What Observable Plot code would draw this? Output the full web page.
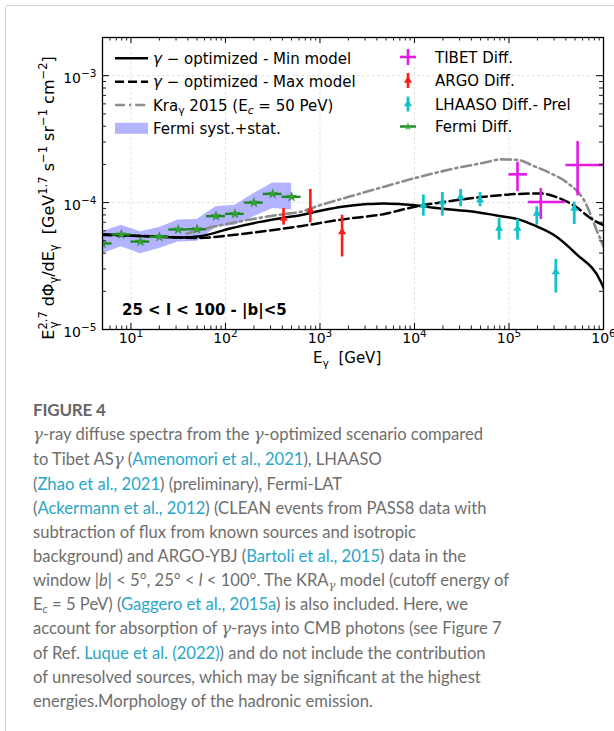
<!DOCTYPE html>
<html><head><meta charset="utf-8">
<script src="https://cdn.jsdelivr.net/npm/d3@7"></script>
<script src="https://cdn.jsdelivr.net/npm/@observablehq/plot@0.6"></script>
<style>
body{margin:0;background:#fff;width:614px;height:731px;overflow:hidden;position:relative;}
#card{position:absolute;left:5px;top:5px;width:640px;height:760px;border:1.5px solid #d4d4d4;border-radius:3px;}
#chart{position:absolute;left:0;top:0;}
#figlabel{position:absolute;left:33px;top:400px;font:bold 17px Lato;color:#666;line-height:20px;letter-spacing:-0.2px}
#caption{position:absolute;left:33px;top:422px;font:16.6px Lato;color:#6e6e6e;line-height:24px;white-space:nowrap;}
#caption a{color:#2aa6c6;text-decoration:none}
#caption sub{font-size:70%;line-height:0;vertical-align:-0.3em}
.g{font-family:"DejaVu Serif";font-style:italic}
</style></head><body>
<div id="card"></div>
<div id="chart"></div>
<div id="figlabel">FIGURE 4</div>
<div id="caption">
<span class="g">γ</span>-ray diffuse spectra from the <span class="g">γ</span>-optimized scenario compared<br>
to Tibet AS<span class="g">γ</span> (<a>Amenomori et al., 2021</a>), LHAASO<br>
(<a>Zhao et al., 2021</a>) (preliminary), Fermi-LAT<br>
(<a>Ackermann et al., 2012</a>) (CLEAN events from PASS8 data with<br>
subtraction of flux from known sources and isotropic<br>
background) and ARGO-YBJ (<a>Bartoli et al., 2015</a>) data in the<br>
window |<i>b</i>| &lt; 5°, 25° &lt; <i>l</i> &lt; 100°. The KRA<sub class="g">γ</sub> model (cutoff energy of<br>
E<sub><i>c</i></sub> = 5 PeV) (<a>Gaggero et al., 2015a</a>) is also included. Here, we<br>
account for absorption of <span class="g">γ</span>-rays into CMB photons (see Figure 7<br>
of Ref. <a>Luque et al. (2022)</a>) and do not include the contribution<br>
of unresolved sources, which may be significant at the highest<br>
energies.Morphology of the hadronic emission.
</div>
<script>
// ---------- data ----------
const xMajor = [10, 100, 1e3, 1e4, 1e5, 1e6];
const xMajorExp = ["1", "2", "3", "4", "5", "6"];
const yMajor = [1e-5, 1e-4, 1e-3];
const yMajorExp = ["\u22125", "\u22124", "\u22123"];
const xGrid = [10, 100, 1e3, 1e4, 1e5];
const yGrid = [1e-4, 1e-3];

// Fermi diffuse points (bin centres, bin edges, flux) and syst.+stat. band
const fermiE    = [5.0, 7.9, 12.6, 20.0, 31.6, 50.1, 79.4, 126, 200, 316, 501];
const fermiELo  = [3.98, 6.31, 10.0, 15.8, 25.1, 39.8, 63.1, 100, 158, 251, 398];
const fermiEHi  = [6.31, 10.0, 15.8, 25.1, 39.8, 63.1, 100, 158, 251, 398, 631];
const fermiFlux = [4.76e-5, 5.61e-5, 4.93e-5, 5.37e-5, 6.14e-5, 6.17e-5, 7.82e-5, 8.15e-5, 1.00e-4, 1.17e-4, 1.11e-4];
const fermiBandLo = [3.96e-5, 4.48e-5, 3.96e-5, 4.35e-5, 4.90e-5, 4.96e-5, 6.37e-5, 6.64e-5, 7.73e-5, 9.0e-5, 8.73e-5];
const fermiBandHi = [5.88e-5, 6.64e-5, 5.88e-5, 6.37e-5, 7.28e-5, 7.36e-5, 9.27e-5, 9.55e-5, 1.18e-4, 1.43e-4, 1.42e-4];

// ARGO-YBJ
const argoE    = [412, 791, 1714];
const argoFlux = [7.5e-5, 8.72e-5, 5.88e-5];
const argoLo   = [6.64e-5, 6.92e-5, 3.73e-5];
const argoHi   = [9.0e-5, 1.27e-4, 7.96e-5];

// LHAASO (preliminary)
const lhaasoE    = [12400, 19700, 30800, 49400, 78600, 123000, 197000, 313000, 490000];
const lhaasoFlux = [9.55e-5, 1.01e-4, 1.11e-4, 1.05e-4, 6.25e-5, 6.25e-5, 8.22e-5, 2.84e-5, 9.0e-5];
const lhaasoLo   = [7.82e-5, 7.82e-5, 9.27e-5, 9.27e-5, 5.06e-5, 5.06e-5, 6.64e-5, 1.94e-5, 6.73e-5];
const lhaasoHi   = [1.15e-4, 1.20e-4, 1.27e-4, 1.20e-4, 7.50e-5, 7.36e-5, 9.27e-5, 3.57e-5, 1.01e-4];

// Tibet AS-gamma
const tibetE    = [1.23e5, 2.17e5, 5.32e5];
const tibetELo  = [1.0e5, 1.6e5, 4.0e5];
const tibetEHi  = [1.57e5, 3.94e5, 1.0e6];
const tibetFlux = [1.67e-4, 1.01e-4, 1.98e-4];
const tibetLo   = [1.22e-4, 7.36e-5, 1.13e-4];
const tibetHi   = [2.08e-4, 1.29e-4, 3.03e-4];

// model curves
const minE    = [5, 15.9, 33, 54, 112, 233, 409, 620, 1010, 1714, 3155, 4700, 7120, 10030, 15950, 36600, 81900, 124000, 183000, 313000, 510000, 940000, 1010000];
const minFlux = [5.64e-5, 5.41e-5, 5.31e-5, 5.43e-5, 6.25e-5, 7.05e-5, 7.58e-5, 7.96e-5, 8.61e-5, 9.27e-5, 9.73e-5, 9.86e-5, 9.73e-5, 9.55e-5, 9.1e-5, 8.57e-5, 7.82e-5, 7.41e-5, 6.64e-5, 5.43e-5, 3.96e-5, 2.37e-5, 2.10e-5];
const maxE    = [5, 15.9, 33, 54, 112, 351, 620, 1714, 4700, 10030, 24200, 54100, 124000, 217000, 313000, 510000, 736000, 1000000];
const maxFlux = [5.55e-5, 5.43e-5, 5.3e-5, 5.27e-5, 5.53e-5, 6.14e-5, 6.52e-5, 7.36e-5, 8.11e-5, 9.27e-5, 1.03e-4, 1.11e-4, 1.17e-4, 1.18e-4, 1.11e-4, 9.27e-5, 7.5e-5, 6.64e-5];
const kraE    = [39, 78, 183, 409, 620, 1010, 2100, 4700, 10800, 24200, 54100, 81900, 124000, 183000, 277000, 420000, 620000, 875000, 1000000];
const kraFlux = [5.71e-5, 6.5e-5, 7.36e-5, 8.11e-5, 8.46e-5, 9.55e-5, 1.12e-4, 1.33e-4, 1.58e-4, 1.83e-4, 2.06e-4, 2.19e-4, 2.17e-4, 1.94e-4, 1.70e-4, 1.42e-4, 1.05e-4, 5.71e-5, 4.48e-5];

// minor ticks of the log axes
const mult = [2, 3, 4, 5, 6, 7, 8, 9];
const xMinor = [1, 10, 100, 1e3, 1e4, 1e5].flatMap(d => mult.map(m => m * d)).filter(v => v >= 5 && v <= 1e6);
const yMinor = [1e-5, 1e-4, 1e-3].flatMap(d => mult.map(m => m * d)).filter(v => v <= 2e-3);

// ---------- tables ----------
const fermi = fermiE.map((e, i) => ({e, lo: fermiELo[i], hi: fermiEHi[i], f: fermiFlux[i], bl: fermiBandLo[i], bh: fermiBandHi[i]}));
const argo = argoE.map((e, i) => ({e, f: argoFlux[i], lo: argoLo[i], hi: argoHi[i]}));
const lhaaso = lhaasoE.map((e, i) => ({e, f: lhaasoFlux[i], lo: lhaasoLo[i], hi: lhaasoHi[i]}));
const tibet = tibetE.map((e, i) => ({e, elo: tibetELo[i], ehi: tibetEHi[i], f: tibetFlux[i], lo: tibetLo[i], hi: tibetHi[i]}));
const minM = minE.map((e, i) => ({e, f: minFlux[i]}));
const maxM = maxE.map((e, i) => ({e, f: maxFlux[i]}));
const kra = kraE.map((e, i) => ({e, f: kraFlux[i]}));
const xLab = xMajor.map((v, i) => ({v, t: "10^" + xMajorExp[i]}));
const yLab = yMajor.map((v, i) => ({v, t: "10^" + yMajorExp[i]}));

const W = 614, H = 390, mT = 37, mB = 61, mL = 102, mR = 11;
const PH = H - mT - mB;
const green = "#1f8a1f", red = "#ff1a1a", cyan = "#12c2c8", magenta = "#e31be3";

const plot = Plot.plot({
  width: W, height: H,
  marginLeft: mL, marginRight: mR, marginTop: mT, marginBottom: mB,
  x: {type: "log", domain: [5, 1e6], axis: null},
  y: {type: "log", domain: [1e-5, 2e-3], axis: null},
  style: {fontFamily: "DejaVu Sans", background: "transparent", overflow: "visible"},
  marks: [
    Plot.ruleX(xGrid, {x: d => d, stroke: "#d8d8d8", strokeWidth: 0.8, strokeDasharray: "2.5,2.5"}),
    Plot.ruleY(yGrid, {y: d => d, stroke: "#d8d8d8", strokeWidth: 0.8, strokeDasharray: "2.5,2.5"}),
    Plot.areaY(fermi, {x: "e", y1: "bl", y2: "bh", fill: "#b3b3ff", clip: true}),
    Plot.line(kra, {x: "e", y: "f", stroke: "#8c8c8c", strokeWidth: 2.6, strokeDasharray: "10,4,2.2,4", curve: "monotone-x", clip: true}),
    Plot.line(maxM, {x: "e", y: "f", stroke: "black", strokeWidth: 2.5, strokeDasharray: "9.5,4.5", curve: "monotone-x", clip: true}),
    Plot.line(minM, {x: "e", y: "f", stroke: "black", strokeWidth: 2.5, curve: "monotone-x", clip: true}),
    // Fermi points
    Plot.ruleY(fermi, {y: "f", x1: "lo", x2: "hi", stroke: green, strokeWidth: 2.4, clip: true}),
    Plot.dot(fermi, {x: "e", y: "f", symbol: "star", r: 3, fill: "#3aa03a", stroke: green, strokeWidth: 0.5, clip: true}),
    // ARGO
    Plot.ruleX(argo, {x: "e", y1: "lo", y2: "hi", stroke: red, strokeWidth: 2.6}),
    Plot.dot(argo, {x: "e", y: "f", symbol: "triangle", r: 3, fill: red}),
    // LHAASO
    Plot.ruleX(lhaaso, {x: "e", y1: "lo", y2: "hi", stroke: cyan, strokeWidth: 2.8}),
    Plot.dot(lhaaso, {x: "e", y: "f", symbol: "triangle", r: 3, fill: cyan}),
    // TIBET
    Plot.ruleX(tibet, {x: "e", y1: "lo", y2: "hi", stroke: magenta, strokeWidth: 2.6, clip: true}),
    Plot.ruleY(tibet, {y: "f", x1: "elo", x2: "ehi", stroke: magenta, strokeWidth: 2.6, clip: true}),
    Plot.dot(tibet, {x: "e", y: "f", symbol: "plus", r: 2.5, stroke: magenta, strokeWidth: 1.2}),
    Plot.frame({stroke: "black", strokeWidth: 1.3}),
    // inward ticks, all four sides
    Plot.tickX(xMajor, {x: d => d, insetTop: PH - 6, stroke: "black", strokeWidth: 1}),
    Plot.tickX(xMajor, {x: d => d, insetBottom: PH - 6, stroke: "black", strokeWidth: 1}),
    Plot.tickX(xMinor, {x: d => d, insetTop: PH - 3.5, stroke: "black", strokeWidth: 0.9}),
    Plot.tickX(xMinor, {x: d => d, insetBottom: PH - 3.5, stroke: "black", strokeWidth: 0.9}),
    Plot.tickY(yMajor, {y: d => d, insetRight: (W - mL - mR) - 7, stroke: "black", strokeWidth: 1}),
    Plot.tickY(yMajor, {y: d => d, insetLeft: (W - mL - mR) - 7, stroke: "black", strokeWidth: 1}),
    Plot.tickY(yMinor, {y: d => d, insetRight: (W - mL - mR) - 4, stroke: "black", strokeWidth: 0.9}),
    Plot.tickY(yMinor, {y: d => d, insetLeft: (W - mL - mR) - 4, stroke: "black", strokeWidth: 0.9}),
    // tick labels
    Plot.text(xLab, {x: "v", text: "t", frameAnchor: "bottom", dy: 13, fontSize: 14, fill: "black"}),
    Plot.text(yLab, {y: "v", text: "t", frameAnchor: "left", dx: -6, dy: 3, textAnchor: "end", fontSize: 14, fill: "black"})
  ]
});
document.getElementById("chart").appendChild(plot);

// turn "10^e" labels into a base and a raised exponent
d3.select(plot).selectAll("text").each(function () {
  const t = d3.select(this);
  const s = t.text();
  if (!s.includes("^")) return;
  const [b, e] = s.split("^");
  t.text(null);
  t.append("tspan").text(b);
  t.append("tspan").attr("dy", "-0.55em").attr("font-size", "0.75em").text(e);
});

const svg = d3.select(plot);
// rich text helper: segs = [{t, s:"sup"|"sub", i:bool, dx}]
function rich(g, x, y, segs, size, extra) {
  const t = g.append("text").attr("x", x).attr("y", y).attr("font-size", size).attr("text-anchor", "start").style("white-space", "pre");
  if (extra) extra(t);
  let cur = 0;
  for (const s of segs) {
    const target = s.s === "sup" ? -0.42 * size : s.s === "sub" ? 0.25 * size : 0;
    const sp = t.append("tspan").attr("dy", target - cur).text(s.t);
    cur = target;
    if (s.s) sp.attr("font-size", 0.72 * size);
    if (s.i) sp.attr("font-style", "italic");
    if (s.dx) sp.attr("dx", s.dx);
  }
  return t;
}
const ann = svg.append("g").attr("font-family", "DejaVu Sans").attr("fill", "black").attr("text-anchor", "start");

// axis labels
rich(ann, 313, 363, [{t: "E"}, {t: "γ", s: "sub"}, {t: "  [GeV]"}], 15);
rich(ann, 0, 0, [
  {t: "E"}, {t: "2.7", s: "sup"}, {t: "γ", s: "sub", dx: -17}, {t: " dΦ", dx: 10}, {t: "γ", s: "sub"}, {t: "/dE"}, {t: "γ", s: "sub"},
  {t: "  [GeV"}, {t: "1.7", s: "sup"}, {t: " s"}, {t: "−1", s: "sup"}, {t: " sr"}, {t: "−1", s: "sup"}, {t: " cm"}, {t: "−2", s: "sup"}, {t: "]"}
], 16, t => t.attr("text-anchor", "middle").attr("transform", "translate(54,198) rotate(-90)"));

// region text
ann.append("text").attr("x", 122).attr("y", 315).attr("font-size", 15).attr("font-weight", "bold").text("25 < l < 100 - |b|<5");

// legend, left column
const leg = ann.append("g");
const lx1 = 115, lx2 = 148, ltx = 153;
const rows = [58.3, 81.7, 105, 128.3];
leg.append("line").attr("x1", lx1).attr("x2", lx2).attr("y1", rows[0]).attr("y2", rows[0]).attr("stroke", "black").attr("stroke-width", 2.5);
leg.append("line").attr("x1", lx1).attr("x2", lx2).attr("y1", rows[1]).attr("y2", rows[1]).attr("stroke", "black").attr("stroke-width", 2.5).attr("stroke-dasharray", "9,4");
leg.append("line").attr("x1", lx1).attr("x2", lx2).attr("y1", rows[2]).attr("y2", rows[2]).attr("stroke", "#8c8c8c").attr("stroke-width", 2.6).attr("stroke-dasharray", "10,4,2.2,4");
leg.append("rect").attr("x", lx1).attr("y", rows[3] - 5.5).attr("width", lx2 - lx1).attr("height", 11).attr("fill", "#b3b3ff");
rich(leg, ltx, rows[0] + 5.5, [{t: "γ", i: true}, {t: " − optimized - Min model"}], 15);
rich(leg, ltx, rows[1] + 5.5, [{t: "γ", i: true}, {t: " − optimized - Max model"}], 15);
rich(leg, ltx, rows[2] + 5.5, [{t: "Kra"}, {t: "γ", s: "sub"}, {t: " 2015 (E"}, {t: "c", s: "sub", i: true}, {t: " = 50 PeV)"}], 15);
rich(leg, ltx, rows[3] + 5.5, [{t: "Fermi syst.+stat."}], 15);

// legend, right column
const rx = 408, rtx = 435;
const rrows = [57, 80.5, 104, 126.5];
leg.append("line").attr("x1", rx - 8).attr("x2", rx + 8).attr("y1", rrows[0]).attr("y2", rrows[0]).attr("stroke", magenta).attr("stroke-width", 2.6);
leg.append("line").attr("x1", rx).attr("x2", rx).attr("y1", rrows[0] - 8).attr("y2", rrows[0] + 8).attr("stroke", magenta).attr("stroke-width", 2.6);
leg.append("line").attr("x1", rx).attr("x2", rx).attr("y1", rrows[1] - 7.5).attr("y2", rrows[1] + 7.5).attr("stroke", red).attr("stroke-width", 2.6);
leg.append("path").attr("d", d3.symbol(d3.symbolTriangle, 28)()).attr("transform", `translate(${rx},${rrows[1]})`).attr("fill", red);
leg.append("line").attr("x1", rx).attr("x2", rx).attr("y1", rrows[2] - 7.5).attr("y2", rrows[2] + 7.5).attr("stroke", cyan).attr("stroke-width", 2.8);
leg.append("path").attr("d", d3.symbol(d3.symbolTriangle, 28)()).attr("transform", `translate(${rx},${rrows[2]})`).attr("fill", cyan);
leg.append("line").attr("x1", rx - 8).attr("x2", rx + 8).attr("y1", rrows[3]).attr("y2", rrows[3]).attr("stroke", green).attr("stroke-width", 2.4);
leg.append("path").attr("d", d3.symbol(d3.symbolStar, 22)()).attr("transform", `translate(${rx},${rrows[3]})`).attr("fill", "#3aa03a");
rich(leg, rtx, rrows[0] + 5.5, [{t: "TIBET Diff."}], 15);
rich(leg, rtx, rrows[1] + 5.5, [{t: "ARGO Diff."}], 15);
rich(leg, rtx, rrows[2] + 5.5, [{t: "LHAASO Diff.- Prel"}], 15);
rich(leg, rtx, rrows[3] + 5.5, [{t: "Fermi Diff."}], 15);
</script>
</body></html>
